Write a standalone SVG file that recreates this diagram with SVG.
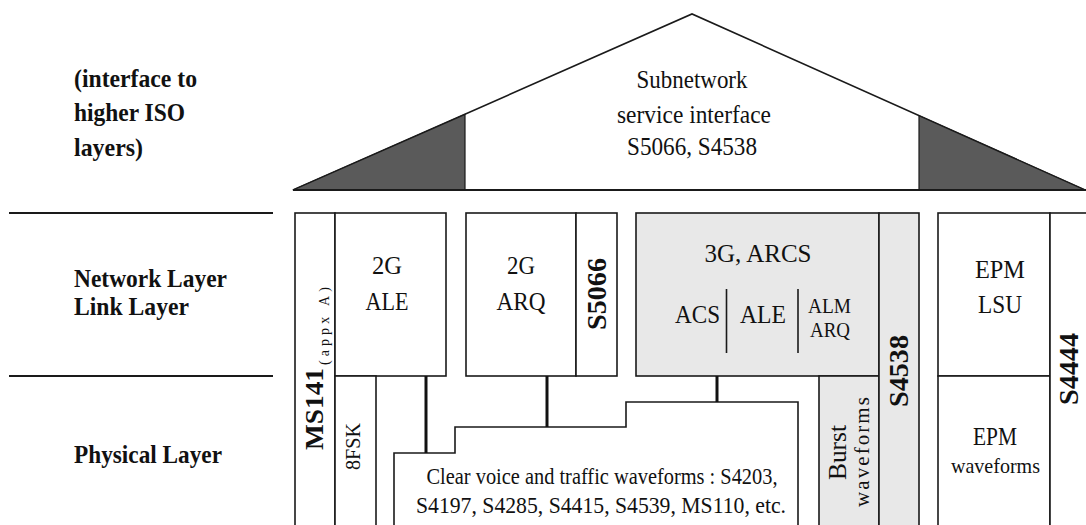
<svg xmlns="http://www.w3.org/2000/svg" width="1086" height="525" viewBox="0 0 1086 525">
<style>
.ln{fill:none;stroke:#1a1a1a;stroke-width:1.6}
.bx{fill:#fff;stroke:#1a1a1a;stroke-width:1.6}
.gb{fill:#e8e8e8;stroke:#1a1a1a;stroke-width:1.6}
.dk{fill:#5a5a5a;stroke:#1a1a1a;stroke-width:1.2}
.cn{fill:none;stroke:#111;stroke-width:3}
text{font-family:'Liberation Serif','DejaVu Serif',serif;fill:#111}
.r{font-size:26px}
.b{font-size:26px;font-weight:bold}
.m{text-anchor:middle}
</style>
<rect width="1086" height="525" fill="#fff"/>
<g id="roof">
<polygon class="bx" points="293,190 692,14 1085,190"/>
<polygon class="dk" points="293,190 465,114.5 465,190"/>
<polygon class="dk" points="919,115.7 1085,190 919,190"/>
<line class="ln" x1="293" y1="190" x2="1086" y2="190" style="stroke-width:2.2"/>
<text class="r m" x="692" y="88" textLength="111" lengthAdjust="spacingAndGlyphs">Subnetwork</text>
<text class="r m" x="694" y="123" textLength="154" lengthAdjust="spacingAndGlyphs">service interface</text>
<text class="r m" x="692" y="155" textLength="130" lengthAdjust="spacingAndGlyphs">S5066, S4538</text>
</g>
<g id="layer-labels">
<line class="ln" x1="9" y1="213" x2="273" y2="213" style="stroke-width:2"/>
<line class="ln" x1="9" y1="376" x2="273" y2="376" style="stroke-width:2"/>
<text class="b" x="74" y="87" textLength="123" lengthAdjust="spacingAndGlyphs">(interface to</text>
<text class="b" x="74" y="121" textLength="111" lengthAdjust="spacingAndGlyphs">higher ISO</text>
<text class="b" x="74" y="156" textLength="69" lengthAdjust="spacingAndGlyphs">layers)</text>
<text class="b" x="74" y="287" textLength="153" lengthAdjust="spacingAndGlyphs">Network Layer</text>
<text class="b" x="74" y="315" textLength="115" lengthAdjust="spacingAndGlyphs">Link Layer</text>
<text class="b" x="74" y="463" textLength="148" lengthAdjust="spacingAndGlyphs">Physical Layer</text>
</g>
<g id="ms141">
<rect class="bx" x="295" y="213" width="40" height="320"/>
<text class="b" transform="translate(323,450) rotate(-90)" textLength="82" lengthAdjust="spacingAndGlyphs">MS141</text>
<text style="font-size:14px" transform="translate(329,365) rotate(-90)" textLength="78" lengthAdjust="spacing">(appx A)</text>
</g>
<g id="ale2g">
<rect class="bx" x="335" y="213" width="111" height="163"/>
<text class="r m" x="387" y="274" textLength="30" lengthAdjust="spacingAndGlyphs">2G</text>
<text class="r m" x="387" y="310" textLength="43" lengthAdjust="spacingAndGlyphs">ALE</text>
</g>
<g id="fsk8">
<rect class="bx" x="335" y="376" width="41" height="160"/>
<text style="font-size:21px" transform="translate(360,470) rotate(-90)" textLength="47" lengthAdjust="spacingAndGlyphs">8FSK</text>
</g>
<g id="arq2g">
<rect class="bx" x="466" y="213" width="110" height="163"/>
<text class="r m" x="521" y="274" textLength="28" lengthAdjust="spacingAndGlyphs">2G</text>
<text class="r m" x="521" y="310" textLength="49" lengthAdjust="spacingAndGlyphs">ARQ</text>
</g>
<g id="s5066">
<rect class="bx" x="576" y="213" width="41" height="163"/>
<text class="b" style="font-size:27px" transform="translate(606,330) rotate(-90)" textLength="72" lengthAdjust="spacingAndGlyphs">S5066</text>
</g>
<g id="arcs3g">
<rect class="gb" x="636" y="213" width="243" height="163"/>
<text class="r m" x="758" y="262" textLength="107" lengthAdjust="spacingAndGlyphs">3G,  ARCS</text>
<line class="ln" x1="726.5" y1="289" x2="726.5" y2="353"/>
<line class="ln" x1="798" y1="289" x2="798" y2="353"/>
<text class="r m" x="697.5" y="323" textLength="45" lengthAdjust="spacingAndGlyphs">ACS</text>
<text class="r m" x="763" y="323" textLength="46" lengthAdjust="spacingAndGlyphs">ALE</text>
<text class="m" style="font-size:22px" x="829.5" y="313" textLength="43" lengthAdjust="spacingAndGlyphs">ALM</text>
<text class="m" style="font-size:22px" x="830" y="337" textLength="40" lengthAdjust="spacingAndGlyphs">ARQ</text>
</g>
<g id="burst">
<rect class="gb" x="819" y="376" width="60" height="160"/>
<text style="font-size:25px" transform="translate(846,480) rotate(-90)" textLength="55" lengthAdjust="spacingAndGlyphs">Burst</text>
<text style="font-size:21px" transform="translate(869,507) rotate(-90)" textLength="110" lengthAdjust="spacing">waveforms</text>
</g>
<g id="s4538">
<rect class="gb" x="879" y="213" width="40" height="320"/>
<text class="b" style="font-size:27px" transform="translate(908,407) rotate(-90)" textLength="72" lengthAdjust="spacingAndGlyphs">S4538</text>
</g>
<g id="clearvoice">
<polygon class="bx" points="394,535 394,453 455,453 455,427 626,427 626,402 798,402 798,535"/>
<text class="m" style="font-size:24px" x="602" y="484" textLength="351" lengthAdjust="spacingAndGlyphs">Clear voice and traffic waveforms : S4203,</text>
<text class="m" style="font-size:24px" x="601" y="513" textLength="370" lengthAdjust="spacingAndGlyphs">S4197,  S4285,  S4415,  S4539,  MS110,  etc.</text>
</g>
<g id="epmlsu">
<rect class="bx" x="938" y="213" width="112" height="163"/>
<text class="r m" x="1000" y="278" textLength="50" lengthAdjust="spacingAndGlyphs">EPM</text>
<text class="r m" x="1000" y="313" textLength="44" lengthAdjust="spacingAndGlyphs">LSU</text>
</g>
<g id="epmwave">
<rect class="bx" x="938" y="376" width="112" height="160"/>
<text class="m" style="font-size:25px" x="995" y="445" textLength="44" lengthAdjust="spacingAndGlyphs">EPM</text>
<text class="m" style="font-size:22px" x="995.5" y="473" textLength="89" lengthAdjust="spacingAndGlyphs">waveforms</text>
</g>
<g id="s4444">
<rect class="bx" x="1050" y="213" width="50" height="320"/>
<text class="b" style="font-size:27px" transform="translate(1078,405) rotate(-90)" textLength="72" lengthAdjust="spacingAndGlyphs">S4444</text>
</g>
<g id="connectors">
<line class="cn" x1="426" y1="376" x2="426" y2="453"/>
<line class="cn" x1="547" y1="376" x2="547" y2="427"/>
<line class="cn" x1="717" y1="376" x2="717" y2="402"/>
</g>
</svg>
